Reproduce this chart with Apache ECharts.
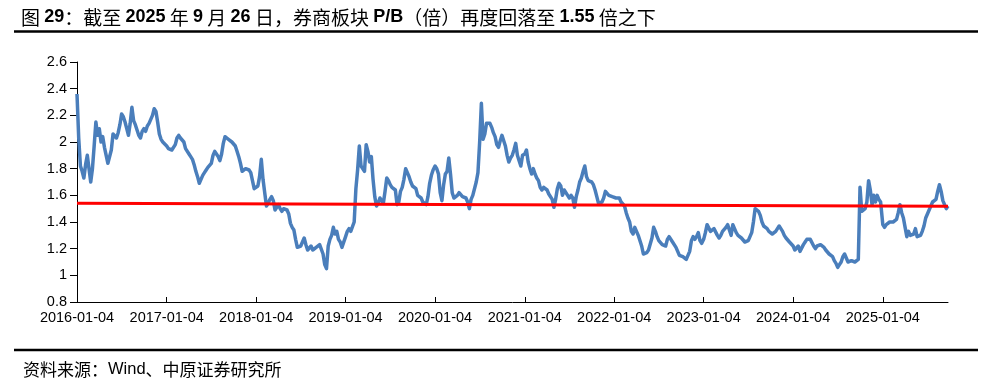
<!DOCTYPE html>
<html><head><meta charset="utf-8">
<script src="https://cdn.jsdelivr.net/npm/echarts@6/dist/echarts.min.js"></script>
<style>html,body{margin:0;padding:0;background:#fff}#c{width:993px;height:381px}</style>
</head><body><div id="c"></div>
<script>
// X tick labels (yearly)
const tickLabels = ['2016-01-04','2017-01-04','2018-01-04','2019-01-04','2020-01-04','2021-01-04','2022-01-04','2023-01-04','2024-01-04','2025-01-04'];
const startDate = '2016-01-04';
const endDate = '2025-09-27';
// Weekly P/B readings, each year starting on its Jan 4
const pb2016 = [2.36,2.03,1.82,1.78,1.73,1.83,1.9,1.9,1.70,1.8,1.97,2.15,2.05,2.1,2.0,2.04,1.96,1.9,1.84,1.84,1.94,2.06,2.05,2.03,2.07,2.13,2.21,2.19,2.15,2.1,2.05,2.14,2.26,2.16,2.13,2.09,2.05,2.03,2.08,2.1,2.08,2.12,2.14,2.13,2.2,2.25,2.23,2.15,2.06,2.02,2.0,2.0];
const pb2017 = [1.97,1.95,1.95,1.94,1.93,1.98,2.03,2.05,2.03,2.04,2.0,1.95,1.96,1.91,1.89,1.87,1.83,1.78,1.74,1.69,1.72,1.75,1.77,1.79,1.81,1.82,1.84,1.9,1.93,1.91,1.89,1.86,1.91,1.99,2.04,2.04,2.02,2.03,2.0,2.0,1.97,1.93,1.89,1.84,1.78,1.77,1.8,1.81,1.79,1.77,1.71,1.65];
const pb2018 = [1.64,1.67,1.74,1.87,1.72,1.62,1.52,1.54,1.57,1.59,1.56,1.49,1.49,1.53,1.5,1.48,1.5,1.49,1.49,1.46,1.39,1.36,1.34,1.27,1.21,1.21,1.22,1.22,1.28,1.23,1.19,1.2,1.22,1.19,1.2,1.21,1.2,1.23,1.22,1.16,1.08,1.05,1.22,1.27,1.3,1.36,1.31,1.33,1.27,1.25,1.21,1.2];
const pb2019 = [1.29,1.33,1.35,1.33,1.33,1.4,1.65,1.79,1.97,1.82,1.83,1.78,1.98,1.93,1.85,1.89,1.72,1.59,1.52,1.54,1.58,1.57,1.54,1.63,1.73,1.71,1.68,1.66,1.65,1.64,1.53,1.55,1.63,1.66,1.72,1.8,1.8,1.74,1.7,1.67,1.67,1.65,1.6,1.59,1.58,1.55,1.55,1.53,1.59,1.69,1.75,1.79];
const pb2020 = [1.82,1.8,1.76,1.62,1.56,1.68,1.76,1.78,1.88,1.76,1.62,1.58,1.59,1.6,1.62,1.61,1.59,1.6,1.58,1.55,1.5,1.57,1.6,1.59,1.7,1.77,2.0,2.29,2.02,2.06,2.14,2.13,2.14,2.11,2.07,2.04,1.98,1.96,2.01,2.05,2.05,1.97,1.9,1.85,1.88,1.9,1.94,1.99,1.9,1.86,1.82,1.9];
const pb2021 = [1.91,1.94,1.85,1.8,1.76,1.8,1.76,1.73,1.71,1.66,1.64,1.66,1.66,1.64,1.61,1.6,1.57,1.51,1.57,1.65,1.69,1.67,1.6,1.64,1.65,1.6,1.58,1.6,1.58,1.51,1.59,1.64,1.7,1.73,1.78,1.82,1.74,1.71,1.7,1.7,1.68,1.64,1.59,1.54,1.53,1.55,1.58,1.63,1.63,1.6,1.61,1.59];
const pb2022 = [1.58,1.58,1.57,1.58,1.55,1.55,1.52,1.47,1.43,1.4,1.33,1.31,1.36,1.33,1.3,1.29,1.22,1.16,1.16,1.17,1.19,1.2,1.28,1.36,1.33,1.29,1.26,1.25,1.23,1.24,1.22,1.27,1.29,1.28,1.25,1.24,1.21,1.18,1.15,1.14,1.14,1.13,1.12,1.12,1.18,1.26,1.29,1.27,1.29,1.32,1.26,1.24];
const pb2023 = [1.27,1.32,1.38,1.38,1.33,1.32,1.35,1.34,1.3,1.28,1.3,1.33,1.33,1.36,1.38,1.34,1.3,1.38,1.39,1.32,1.3,1.29,1.28,1.27,1.25,1.24,1.26,1.29,1.32,1.4,1.5,1.51,1.48,1.45,1.4,1.37,1.36,1.35,1.33,1.32,1.31,1.31,1.33,1.35,1.37,1.35,1.33,1.3,1.28,1.27,1.25,1.24];
const pb2024 = [1.22,1.19,1.19,1.22,1.18,1.17,1.23,1.25,1.27,1.28,1.27,1.26,1.22,1.2,1.22,1.22,1.23,1.24,1.21,1.19,1.18,1.16,1.15,1.14,1.11,1.09,1.06,1.08,1.1,1.14,1.16,1.13,1.1,1.11,1.11,1.1,1.1,1.1,1.12,1.66,1.48,1.49,1.5,1.55,1.71,1.64,1.53,1.6,1.55,1.6,1.57,1.55];
const pb2025 = [1.38,1.36,1.38,1.39,1.4,1.41,1.4,1.41,1.42,1.47,1.53,1.47,1.43,1.36,1.29,1.33,1.3,1.3,1.31,1.35,1.29,1.3,1.3,1.33,1.37,1.43,1.46,1.49,1.52,1.55,1.54,1.57,1.63,1.68,1.63,1.56,1.56,1.5,1.52];
// Linear trend line end values
const trendValues = [1.541, 1.519];
const yTicks = {min: 0.8, max: 2.6, interval: 0.2};

function dayOf(s){ const p = s.split('-').map(Number); const b = startDate.split('-').map(Number);
  return Math.round((Date.UTC(p[0],p[1]-1,p[2]) - Date.UTC(b[0],b[1]-1,b[2]))/86400000); }
const years = {2016:pb2016,2017:pb2017,2018:pb2018,2019:pb2019,2020:pb2020,2021:pb2021,2022:pb2022,2023:pb2023,2024:pb2024,2025:pb2025};
const lineData = [];
Object.keys(years).forEach(y => { const s = dayOf(y + '-01-04'); years[y].forEach((v,i) => lineData.push([s + 7*i, v])); });
const xMax = dayOf(endDate);
const tickDays = tickLabels.map(dayOf);

const chart = echarts.init(document.getElementById('c'));
chart.setOption({
  animation: false,
  backgroundColor: '#fff',
  title: [{
    left: 16, top: 3,
    text: '{c|图 }{n|29}{c|：截至 }{n|2025}{c| 年 }{n|9}{c| 月 }{n|26}{c| 日，券商板块 }{n|P/B}{c|（倍）再度回落至 }{n|1.55}{c| 倍之下}',
    textStyle: { rich: {
      c: {fontFamily: 'Noto Sans CJK SC', fontSize: 19, color: '#000', fontWeight: 'normal'},
      n: {fontFamily: 'Liberation Sans', fontSize: 18, color: '#000', fontWeight: 'bold'}
    }}
  },{
    left: 18, top: 356,
    text: '{c|资料来源：}{n|Wind}{c|、中原证券研究所}',
    textStyle: { rich: {
      c: {fontFamily: 'Noto Sans CJK SC', fontSize: 17, color: '#000', fontWeight: 'normal'},
      n: {fontFamily: 'Liberation Sans', fontSize: 16.5, color: '#000', fontWeight: 'normal'}
    }}
  }],
  graphic: [
    {type: 'line', shape: {x1: 14, y1: 31.5, x2: 978, y2: 31.5}, style: {stroke: '#000', lineWidth: 2.5}},
    {type: 'line', shape: {x1: 14, y1: 350, x2: 978, y2: 350}, style: {stroke: '#000', lineWidth: 2.5}}
  ],
  grid: {left: 77, right: 45, top: 62, bottom: 79, containLabel: false},
  xAxis: {
    type: 'value', min: 0, max: xMax,
    axisLine: {show: true, lineStyle: {color: '#000', width: 1}},
    axisTick: {show: true, inside: true, length: 5, lineStyle: {color: '#000'}, customValues: tickDays},
    axisLabel: {show: true, margin: 8, color: '#000', fontFamily: 'Liberation Sans', fontSize: 14.5,
      customValues: tickDays,
      formatter: v => { const i = tickDays.indexOf(Math.round(v)); return i >= 0 ? tickLabels[i] : ''; }},
    splitLine: {show: false}
  },
  yAxis: {
    type: 'value', min: yTicks.min, max: yTicks.max, interval: yTicks.interval,
    axisLine: {show: true, lineStyle: {color: '#000', width: 1}},
    axisTick: {show: true, inside: false, length: 7, lineStyle: {color: '#000'}},
    axisLabel: {margin: 10, color: '#000', fontFamily: 'Liberation Sans', fontSize: 14.5},
    splitLine: {show: false}
  },
  series: [{
    type: 'line', data: lineData, showSymbol: false, symbol: 'none',
    lineStyle: {color: '#4a7ebb', width: 3.5, join: 'round'}, z: 2
  },{
    type: 'line', data: [[0, trendValues[0]], [xMax, trendValues[1]]], showSymbol: false, symbol: 'none',
    lineStyle: {color: '#ff0000', width: 3}, z: 3
  }]
});
</script></body></html>
